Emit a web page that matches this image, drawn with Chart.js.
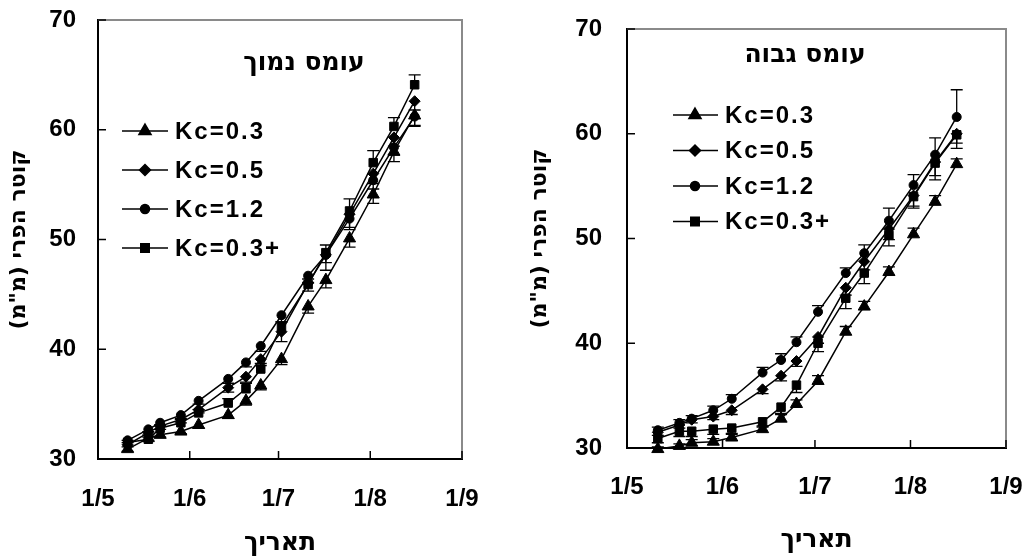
<!DOCTYPE html>
<html lang="he">
<head>
<meta charset="utf-8">
<script src="https://cdn.jsdelivr.net/npm/chart.js@4.4.0/dist/chart.umd.min.js"></script>
<style>
  body { margin: 0; background: #fff; }
  #wrap { display: flex; width: 1032px; height: 558px; }
  canvas { display: block; }
</style>
</head>
<body>
<div id="wrap">
  <canvas id="lowChart" width="516" height="558"></canvas>
  <canvas id="highChart" width="516" height="558"></canvas>
</div>
<script>
// ימי מדידה (ימים מאז 1/5)
const sampleDays = [10, 17, 21, 28, 34, 44, 50, 55, 62, 71, 77, 85, 93, 100, 107];
const tickDays = [0, 31, 61, 92, 123];
const tickLabels = ["1/5", "1/6", "1/7", "1/8", "1/9"];
const seriesNames = ["Kc=0.3", "Kc=0.5", "Kc=1.2", "Kc=0.3+"];

// עומס נמוך - קוטר הפרי (מ"מ)
const lowKc03  = [30.9, 31.9, 32.2, 32.5, 33.1, 34.0, 35.3, 36.7, 39.1, 43.9, 46.3, 50.1, 54.1, 58.0, 61.3];
const lowKc05  = [31.3, 32.4, 33.0, 33.6, 34.5, 36.5, 37.5, 39.1, 41.6, 46.0, 48.6, 52.3, 56.0, 59.3, 62.6];
const lowKc12  = [31.7, 32.7, 33.3, 34.0, 35.3, 37.3, 38.8, 40.3, 43.1, 46.7, 48.6, 51.9, 55.4, 58.4, 61.2];
const lowKc03p = [31.5, 31.8, 32.8, 33.3, 34.2, 35.1, 36.4, 38.2, 42.1, 45.9, 48.8, 52.6, 57.0, 60.3, 64.1];

// עומס נמוך - סטיית תקן (חיובי = למעלה)
const lowErr03  = [-0.2, -0.2, -0.2, -0.2, -0.3, -0.3, -0.4, -0.4, -0.5, -0.6, -0.7, -0.8, -0.8, -0.9, -1.0];
const lowErr05  = [-0.2, -0.2, -0.3, -0.3, -0.3, -0.4, -0.5, -0.6, -0.9, -0.7, -1.4, -1.4, -0.9, -0.8, -0.8];
const lowErr12  = [-0.2, -0.2, -0.2, -0.3, -0.3, -0.4, -0.4, -0.5, -0.6, -0.6, -0.7, -0.8, -0.8, -0.7, -0.8];
const lowErr03p = [0.2, 0.2, 0.3, 0.3, 0.3, 0.4, 0.5, 0.5, 0.4, 0.5, 0.7, 1.1, 1.1, 0.8, 0.9];

// עומס גבוה - קוטר הפרי (מ"מ)
const highKc03  = [29.9, 30.2, 30.5, 30.6, 31.0, 31.8, 32.8, 34.2, 36.4, 41.1, 43.5, 46.8, 50.4, 53.5, 57.1];
const highKc05  = [31.5, 32.2, 32.7, 33.0, 33.6, 35.6, 36.9, 38.3, 40.6, 45.3, 47.8, 50.9, 54.1, 57.3, 60.0];
const highKc12  = [31.7, 32.4, 32.8, 33.6, 34.7, 37.2, 38.4, 40.1, 43.0, 46.7, 48.6, 51.7, 55.1, 58.0, 61.6];
const highKc03p = [30.9, 31.6, 31.6, 31.8, 31.9, 32.5, 33.9, 36.0, 40.0, 44.3, 46.7, 50.3, 54.0, 57.2, 59.9];

const highErr03  = [0.2, 0.2, 0.3, 0.3, 0.3, 0.3, 0.4, 0.4, 0.5, 0.5, 0.5, 0.5, 0.6, 0.6, 0.5];
const highErr05  = [-0.3, -0.3, -0.3, -0.3, -0.4, -0.4, -0.5, -0.5, -0.6, -0.7, -0.8, -1.0, -1.0, -1.3, -0.9];
const highErr12  = [0.3, 0.3, 0.3, 0.4, 0.4, 0.5, 0.6, 0.5, 0.6, 0.5, 0.8, 1.2, 1.0, 1.6, 2.6];
const highErr03p = [-0.4, -0.5, -0.5, -0.5, -0.5, -0.5, -0.6, -0.7, -0.8, -1.0, -1.0, -1.0, -1.1, -1.6, -1.3];

const FONT = "Arial, 'Liberation Sans', sans-serif";
const HEB_FONT = "'DejaVu Sans', sans-serif";
const pointStyles = ["triangle", "rectRot", "circle", "rect"];
const pointSizes = [7, 5.5, 4.5, 6];

Chart.defaults.font.family = FONT;
Chart.defaults.font.weight = "bold";
Chart.defaults.font.size = 24;
Chart.defaults.color = "#000";

// מסגרת, שנתות פנימיות, כותרת, מקרא וקווי שגיאה
const panelPlugin = {
  id: "panel",
  beforeDatasetsDraw(chart) {
    const { ctx, scales: { x, y } } = chart;
    ctx.save();
    ctx.strokeStyle = "#000";
    ctx.lineWidth = 1.3;
    chart.data.datasets.forEach((ds) => {
      ds.err.forEach((e, i) => {
        if (!e) return;
        const px = x.getPixelForValue(ds.data[i].x);
        const y0 = y.getPixelForValue(ds.data[i].y);
        const y1 = y.getPixelForValue(ds.data[i].y + e);
        ctx.beginPath();
        ctx.moveTo(px, y0);
        ctx.lineTo(px, y1);
        ctx.moveTo(px - 6, y1);
        ctx.lineTo(px + 6, y1);
        ctx.stroke();
      });
    });
    ctx.restore();
  },
  afterDraw(chart, args, opts) {
    const { ctx, chartArea: a, scales: { x, y } } = chart;
    ctx.save();
    // קו עליון וימני באפור
    ctx.strokeStyle = "#8a8a8a";
    ctx.lineWidth = 2;
    ctx.beginPath();
    ctx.moveTo(a.left, a.top);
    ctx.lineTo(a.right, a.top);
    ctx.lineTo(a.right, a.bottom);
    ctx.stroke();

    // שנתות פנימה
    ctx.strokeStyle = "#000";
    ctx.lineWidth = 1.5;
    x.ticks.forEach((t) => {
      const px = x.getPixelForValue(t.value);
      ctx.beginPath();
      ctx.moveTo(px, a.bottom);
      ctx.lineTo(px, a.bottom - 8);
      ctx.stroke();
    });
    y.ticks.forEach((t) => {
      const py = y.getPixelForValue(t.value);
      ctx.beginPath();
      ctx.moveTo(a.left, py);
      ctx.lineTo(a.left + 8, py);
      ctx.stroke();
    });

    // כותרת בתוך הגרף
    ctx.fillStyle = "#000";
    ctx.font = "bold 25px " + HEB_FONT;
    ctx.textAlign = "center";
    ctx.textBaseline = "middle";
    ctx.fillText(opts.title, a.left + opts.titleX, a.top + opts.titleY);

    // מקרא
    ctx.font = "bold 24px " + FONT;
    ctx.textAlign = "left";
    ctx.direction = "ltr";
    chart.data.datasets.forEach((ds, i) => {
      const yy = a.top + opts.legendTop + i * opts.legendStep;
      ctx.strokeStyle = "#000";
      ctx.lineWidth = 1.5;
      ctx.beginPath();
      ctx.moveTo(a.left + opts.lineX0, yy);
      ctx.lineTo(a.left + opts.lineX1, yy);
      ctx.stroke();
      ctx.fillStyle = "#000";
      Chart.helpers.drawPoint(ctx, {
        pointStyle: ds.pointStyle, radius: ds.pointRadius, rotation: 0, borderWidth: 1
      }, a.left + opts.markX, yy);
      ctx.letterSpacing = "2px";
      ctx.fillText(ds.label, a.left + opts.textX, yy + 1);
      ctx.letterSpacing = "0px";
    });
    ctx.restore();
  }
};

function makeChart(id, values, errs, p) {
  const datasets = values.map((vals, i) => ({
    label: seriesNames[i],
    data: vals.map((v, j) => ({ x: sampleDays[j], y: v })),
    err: errs[i],
    borderColor: "#000",
    backgroundColor: "#000",
    pointBackgroundColor: "#000",
    pointBorderColor: "#000",
    borderWidth: 1.5,
    pointBorderWidth: 1,
    pointStyle: pointStyles[i],
    pointRadius: pointSizes[i],
    tension: 0,
    clip: false
  }));

  return new Chart(document.getElementById(id), {
    type: "line",
    data: { datasets },
    options: {
      responsive: false,
      animation: false,
      layout: { padding: { left: 0, top: p.top, right: p.right, bottom: 0 } },
      plugins: {
        legend: { display: false },
        tooltip: { enabled: false },
        panel: p.panel
      },
      scales: {
        x: {
          type: "linear",
          min: 0,
          max: 123,
          afterBuildTicks: (s) => { s.ticks = tickDays.map((v) => ({ value: v })); },
          afterFit: (s) => {
            s.height = p.xHeight;
            s.paddingLeft = 0;
            s.paddingRight = 0;
          },
          grid: { display: false, drawTicks: false },
          border: { display: true, color: "#000", width: 2 },
          ticks: {
            autoSkip: false,
            maxRotation: 0,
            padding: p.xTickPad,
            callback: (v) => tickLabels[tickDays.indexOf(v)]
          },
          title: {
            display: true,
            text: "תאריך",
            font: { family: HEB_FONT, size: 25 },
            padding: { top: 0, bottom: p.xTitlePad }
          }
        },
        y: {
          min: 30,
          max: 70,
          afterFit: (s) => {
            s.width = p.yWidth;
            s.paddingTop = 0;
            s.paddingBottom = 0;
          },
          grid: { display: false, drawTicks: false },
          border: { display: true, color: "#000", width: 2 },
          ticks: { stepSize: 10, padding: p.yTickPad },
          title: {
            display: true,
            text: 'קוטר הפרי (מ"מ)\u200F',
            font: { family: HEB_FONT, size: 22 },
            padding: { top: p.yTitlePad, bottom: 0 }
          }
        }
      }
    },
    plugins: [panelPlugin]
  });
}

makeChart("lowChart",
  [lowKc03, lowKc05, lowKc12, lowKc03p],
  [lowErr03, lowErr05, lowErr12, lowErr03p],
  {
    top: 20, right: 54, xHeight: 99, yWidth: 98,
    xTickPad: 26, xTitlePad: 0, yTickPad: 22, yTitlePad: 6,
    panel: {
      title: "עומס נמוך", titleX: 206, titleY: 43,
      legendTop: 111, legendStep: 39,
      lineX0: 24, lineX1: 70, markX: 47, textX: 77
    }
  });

makeChart("highChart",
  [highKc03, highKc05, highKc12, highKc03p],
  [highErr03, highErr05, highErr12, highErr03p],
  {
    top: 29, right: 26, xHeight: 110, yWidth: 111,
    xTickPad: 25, xTitlePad: 3, yTickPad: 25, yTitlePad: 11,
    panel: {
      title: "עומס גבוה", titleX: 178, titleY: 26,
      legendTop: 86, legendStep: 35.5,
      lineX0: 46, lineX1: 91, markX: 68, textX: 98
    }
  });
</script>
</body>
</html>
